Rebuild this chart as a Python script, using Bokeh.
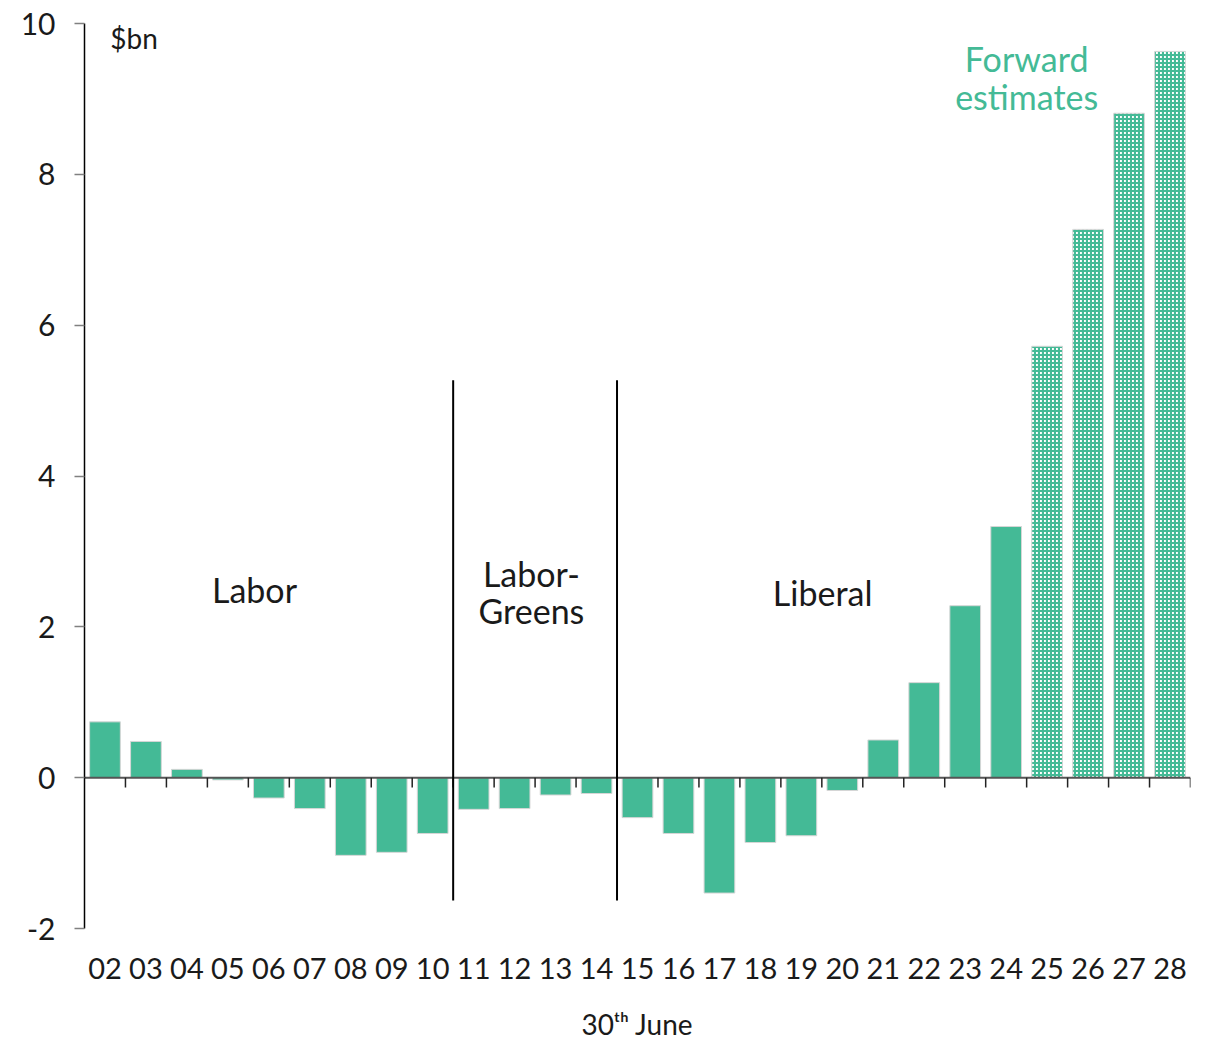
from bokeh.plotting import figure
from bokeh.models import ColumnDataSource, FixedTicker, Range1d
from bokeh.core.properties import value
from bokeh.embed import file_html
from bokeh.resources import INLINE

years = ["02", "03", "04", "05", "06", "07", "08", "09", "10", "11", "12", "13", "14",
         "15", "16", "17", "18", "19", "20", "21", "22", "23", "24", "25", "26", "27", "28"]
balance = [0.74, 0.48, 0.11, -0.03, -0.27, -0.41, -1.03, -0.99, -0.74, -0.42, -0.41, -0.23, -0.21,
           -0.53, -0.74, -1.53, -0.86, -0.77, -0.17, 0.50, 1.26, 2.28, 3.33, 5.72, 7.27, 8.81, 9.63]
forward_from = "25"
y_ticks = [-2, 0, 2, 4, 6, 8, 10]
period_breaks = ["10", "14"]  # last year of Labor, last year of Labor-Greens

TEAL = "#44BA96"
FONT = "Lato"
TXT = "#1a1a1a"

idx = list(range(len(years)))
xc = [i + 0.5 for i in idx]
fi = years.index(forward_from)
actual = ColumnDataSource(dict(x=xc[:fi], top=balance[:fi]))
fwd = ColumnDataSource(dict(x=xc[fi:], top=balance[fi:]))

p = figure(width=1211, height=1043, output_backend="svg", toolbar_location=None,
           x_range=Range1d(0, len(years)), y_range=Range1d(-2, 10),
           min_border_left=84, min_border_right=21, min_border_top=23, min_border_bottom=115)
p.outline_line_color = None
p.grid.visible = False
p.background_fill_color = "white"

p.vbar(x="x", top="top", bottom=0, width=0.75, source=actual, fill_color=TEAL,
       line_color="#D6D6D6", line_width=1)
p.vbar(x="x", top="top", bottom=0, width=0.75, source=fwd, fill_color="white",
       hatch_pattern="+", hatch_color=TEAL, hatch_scale=4, hatch_weight=2.2,
       line_color="#D6D6D6", line_width=1)

# zero line and category boundary ticks
p.segment(x0=[-0.25], y0=[0], x1=[len(years)], y1=[0], line_color="#555555", line_width=2)
p.segment(x0=idx[1:] + [len(years)], y0=[0] * len(years), x1=idx[1:] + [len(years)],
          y1=[-0.13] * len(years), line_color="#222222", line_width=1.5)

# government period separators
bx = [years.index(b) + 1 for b in period_breaks]
p.segment(x0=bx, y0=[-1.63] * 2, x1=bx, y1=[5.27] * 2, line_color="black", line_width=2)

# y axis
ya = p.yaxis[0]
ya.ticker = FixedTicker(ticks=y_ticks)
ya.major_label_overrides = {t: str(t) for t in y_ticks}
ya.axis_line_color = "black"
ya.axis_line_width = 1.5
ya.major_tick_out = 10
ya.major_tick_in = 0
ya.major_tick_line_color = "#808080"
ya.major_tick_line_width = 1.5
ya.minor_tick_line_color = None
ya.major_label_text_font = FONT
ya.major_label_text_font_size = "30px"
ya.major_label_text_color = TXT
ya.major_label_standoff = 19

# x axis
xa = p.xaxis[0]
xa.ticker = FixedTicker(ticks=xc)
xa.major_label_overrides = {x: y for x, y in zip(xc, years)}
xa.axis_line_color = None
xa.major_tick_line_color = None
xa.minor_tick_line_color = None
xa.major_tick_out = 0
xa.major_label_standoff = 29
xa.major_label_text_font = FONT
xa.major_label_text_font_size = "29px"
xa.major_label_text_color = TXT
xa.axis_label = "30ᵗʰ June"
xa.axis_label_text_font = FONT
xa.axis_label_text_font_size = "28px"
xa.axis_label_text_font_style = "normal"
xa.axis_label_text_color = TXT
xa.axis_label_standoff = 25

# annotations
p.text(x=[4.15, 18.02], y=[2.49, 2.45], text=["Labor", "Liberal"], text_font=value(FONT),
       text_font_size="34px", text_color=TXT, text_align="center", text_baseline="middle")
p.text(x=[10.91, 10.91], y=[2.71, 2.21], text=["Labor-", "Greens"], text_font=value(FONT),
       text_font_size="34px", text_color=TXT, text_align="center", text_baseline="middle")
p.text(x=[23.0, 23.0], y=[9.54, 9.03], text=["Forward", "estimates"], text_font=value(FONT),
       text_font_size="34px", text_color=TEAL, text_align="center", text_baseline="middle")
p.text(x=[0.63], y=[9.81], text=["$bn"], text_font=value(FONT),
       text_font_size="28px", text_color=TXT, text_align="left", text_baseline="middle")

open("out.html", "w").write(file_html(p, INLINE))
